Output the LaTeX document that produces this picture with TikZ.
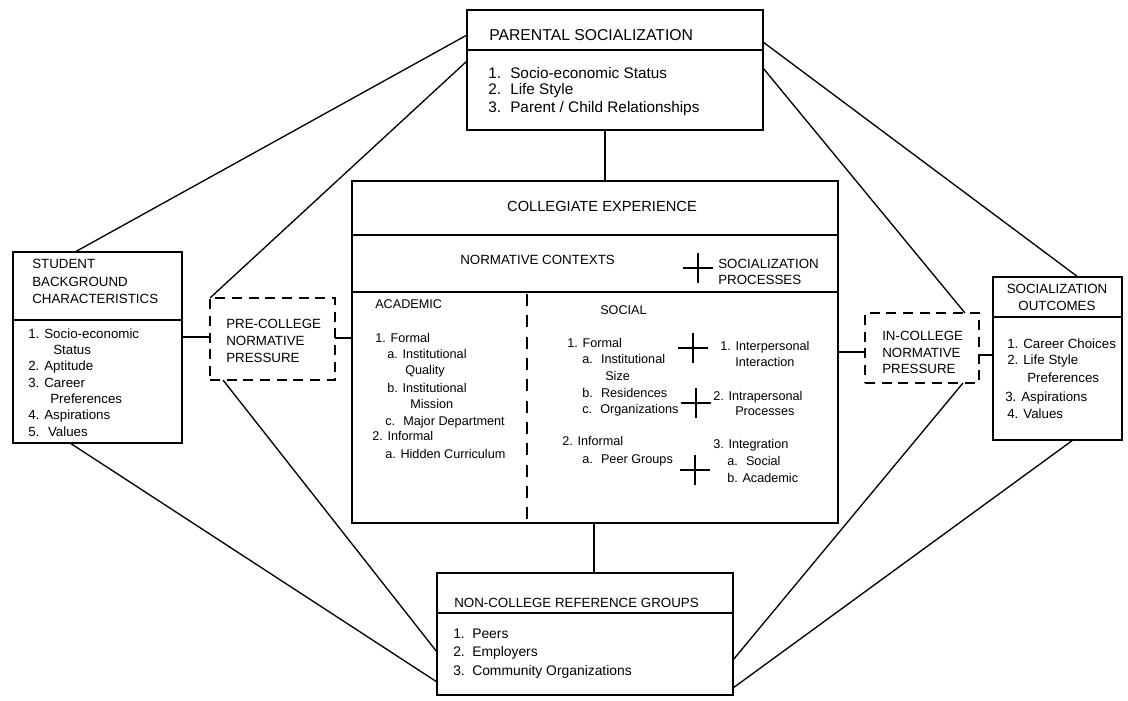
\documentclass[tikz,border=0pt]{standalone}
\usepackage{fontspec}
\setmainfont{Liberation Sans}
\begin{document}
\begin{tikzpicture}[x=0.75pt,y=-0.75pt,
  box/.style={draw, line width=1pt, anchor=north west, inner sep=0pt, outer sep=0pt},
  dbox/.style={box, dash pattern=on 7.5pt off 5pt},
  conn/.style={line width=1pt},
  rule/.style={line width=1pt},
  vdash/.style={line width=1pt, dash pattern=on 9pt off 7pt},
  plus/.style={line width=1.7pt},
  txt/.style={anchor=base west, inner sep=0pt, font=\fontsize{10}{12}\selectfont},
  ptxt/.style={txt, font=\fontsize{11.5}{13}\selectfont},
  ctxt/.style={txt, font=\fontsize{9.5}{11}\selectfont},
  ttl/.style={txt, font=\fontsize{11.8}{13}\selectfont},
  ctr/.style={anchor=base, inner sep=0pt, font=\fontsize{10}{12}\selectfont}]
\useasboundingbox (0,0) rectangle (1128,700);

% boxes
\node[box, minimum width=222pt, minimum height=90pt] (par) at (467,10) {};
\node[box, minimum width=364.5pt, minimum height=256.5pt] (col) at (352,181) {};
\node[box, minimum width=126.75pt, minimum height=143.25pt] (stud) at (13,252) {};
\node[dbox, minimum width=93.75pt, minimum height=61.5pt] (pre) at (210,298) {};
\node[box, minimum width=96.75pt, minimum height=122.25pt] (out) at (993,277) {};
\node[dbox, minimum width=85.5pt, minimum height=52.5pt] (inc) at (865,313) {};
\node[box, minimum width=222pt, minimum height=91.5pt] (non) at (437,573) {};

% dividers
\draw[rule] (par.west |- 0,50) -- (par.east |- 0,50);
\draw[rule] (col.west |- 0,235) -- (col.east |- 0,235);
\draw[rule] (col.west |- 0,292) -- (col.east |- 0,292);
\draw[vdash] (527,294) -- (col.south -| 527,0);
\draw[rule] (stud.west |- 0,320) -- (stud.east |- 0,320);
\draw[rule] (out.west |- 0,317) -- (out.east |- 0,317);
\draw[rule] (non.west |- 0,613) -- (non.east |- 0,613);

% connectors
\draw[conn] (stud.north -| 75,0) -- (par.west |- 0,35);
\draw[conn] (pre.north west) -- (par.west |- 0,61);
\draw[conn] (par.east |- 0,42) -- (out.north -| 1078,0);
\draw[conn] (par.east |- 0,68) -- (inc.north -| 965,0);
\draw[conn] (par.south -| 605,0) -- (col.north -| 605,0);
\draw[conn] (col.south -| 594,0) -- (non.north -| 594,0);
\draw[conn] (stud.east |- 0,337) -- (pre.west |- 0,337);
\draw[conn] (pre.east |- 0,338) -- (col.west |- 0,338);
\draw[conn] (col.east |- 0,352) -- (inc.west |- 0,352);
\draw[conn] (inc.east |- 0,355) -- (out.west |- 0,355);
\draw[conn] (stud.south -| 70,0) -- (non.west |- 0,682);
\draw[conn] (pre.south -| 223,0) -- (non.west |- 0,652);
\draw[conn] (inc.south -| 963,0) -- (non.east |- 0,660);
\draw[conn] (out.south -| 1073,0) -- (non.east |- 0,688);

% plus signs
\draw[plus] (683,268) -- (713,268) (698,253) -- (698,283);
\draw[plus] (678,348) -- (708,348) (693,333) -- (693,363);
\draw[plus] (681,403) -- (711,403) (696,388) -- (696,418);
\draw[plus] (680,470) -- (710,470) (695,455) -- (695,485);

% parental
\node[ttl] (p0) at (489,40) {PARENTAL SOCIALIZATION};
\node[ptxt] (p1n) at (488,78) {1.};
\node[ptxt] (p1) at (510,78) {Socio-economic Status};
\node[ptxt] (p2n) at (488,94) {2.};
\node[ptxt] (p2) at (510,94) {Life Style};
\node[ptxt] (p3n) at (488,112) {3.};
\node[ptxt] (p3) at (510,112) {Parent / Child Relationships};

% collegiate
\node[ctr, font=\fontsize{11}{13}\selectfont] (c0) at (602,211) {COLLEGIATE EXPERIENCE};
\node[txt] (c1) at (460,264) {NORMATIVE CONTEXTS};
\node[txt] (c2) at (718,268) {SOCIALIZATION};
\node[txt] (c3) at (718,284) {PROCESSES};

\node[ctxt] (a0) at (375,308) {ACADEMIC};
\node[ctxt] (a1) at (375,342) {1. Formal};
\node[ctxt] (a2) at (387,358) {a. Institutional};
\node[ctxt] (a3) at (405,374) {Quality};
\node[ctxt] (a4) at (387,392) {b. Institutional};
\node[ctxt] (a5) at (410,408) {Mission};
\node[ctxt] (a6) at (385,425) {c. \ Major Department};
\node[ctxt] (a7) at (372,440) {2. Informal};
\node[ctxt] (a8) at (385,458) {a. Hidden Curriculum};

\node[ctxt] (s0) at (600,314) {SOCIAL};
\node[ctxt] (s1) at (567,347) {1. Formal};
\node[ctxt] (s2) at (582,363) {a. \ Institutional};
\node[ctxt] (s3) at (605,380) {Size};
\node[ctxt] (s4) at (582,397) {b. \ Residences};
\node[ctxt] (s5) at (582,413) {c. \ Organizations};
\node[ctxt] (s6) at (562,445) {2. Informal};
\node[ctxt] (s7) at (582,463) {a. \ Peer Groups};

\node[ctxt] (r1) at (720,350) {1. Interpersonal};
\node[ctxt] (r2) at (735,366) {Interaction};
\node[ctxt] (r3) at (713,400) {2. Intrapersonal};
\node[ctxt] (r4) at (735,415) {Processes};
\node[ctxt] (r5) at (713,448) {3. Integration};
\node[ctxt] (r6) at (727,465) {a. \ Social};
\node[ctxt] (r7) at (727,482) {b. Academic};

% student
\node[txt] (b0) at (32,268) {STUDENT};
\node[txt] (b1) at (32,286) {BACKGROUND};
\node[txt] (b2) at (32,303) {CHARACTERISTICS};
\node[txt] (b3) at (28,338) {1. Socio-economic};
\node[txt] (b4) at (53,354) {Status};
\node[txt] (b5) at (28,370) {2. Aptitude};
\node[txt] (b6) at (28,387) {3. Career};
\node[txt] (b7) at (50,403) {Preferences};
\node[txt] (b8) at (28,419) {4. Aspirations};
\node[txt] (b9) at (28,436) {5. \ Values};

% pre-college
\node[txt] (q0) at (226,328) {PRE-COLLEGE};
\node[txt] (q1) at (226,345) {NORMATIVE};
\node[txt] (q2) at (226,362) {PRESSURE};

% in-college
\node[txt] (i0) at (882,340) {IN-COLLEGE};
\node[txt] (i1) at (882,357) {NORMATIVE};
\node[txt] (i2) at (882,373) {PRESSURE};

% outcomes
\node[ctr] (o0) at (1057,293) {SOCIALIZATION};
\node[ctr] (o1) at (1057,310) {OUTCOMES};
\node[txt] (o2) at (1007,348) {1. Career Choices};
\node[txt] (o3) at (1007,364) {2. Life Style};
\node[txt] (o4) at (1027,382) {Preferences};
\node[txt] (o5) at (1005,401) {3. Aspirations};
\node[txt] (o6) at (1007,418) {4. Values};

% non-college
\node[txt] (n0) at (454,607) {NON-COLLEGE REFERENCE GROUPS};
\node[txt, font=\fontsize{10.4}{12}\selectfont] (n1n) at (453,638) {1.};
\node[txt, font=\fontsize{10.4}{12}\selectfont] (n1) at (472,638) {Peers};
\node[txt, font=\fontsize{10.4}{12}\selectfont] (n2n) at (453,656) {2.};
\node[txt, font=\fontsize{10.4}{12}\selectfont] (n2) at (472,656) {Employers};
\node[txt, font=\fontsize{10.4}{12}\selectfont] (n3n) at (453,675) {3.};
\node[txt, font=\fontsize{10.4}{12}\selectfont] (n3) at (472,675) {Community Organizations};
\end{tikzpicture}
\end{document}
